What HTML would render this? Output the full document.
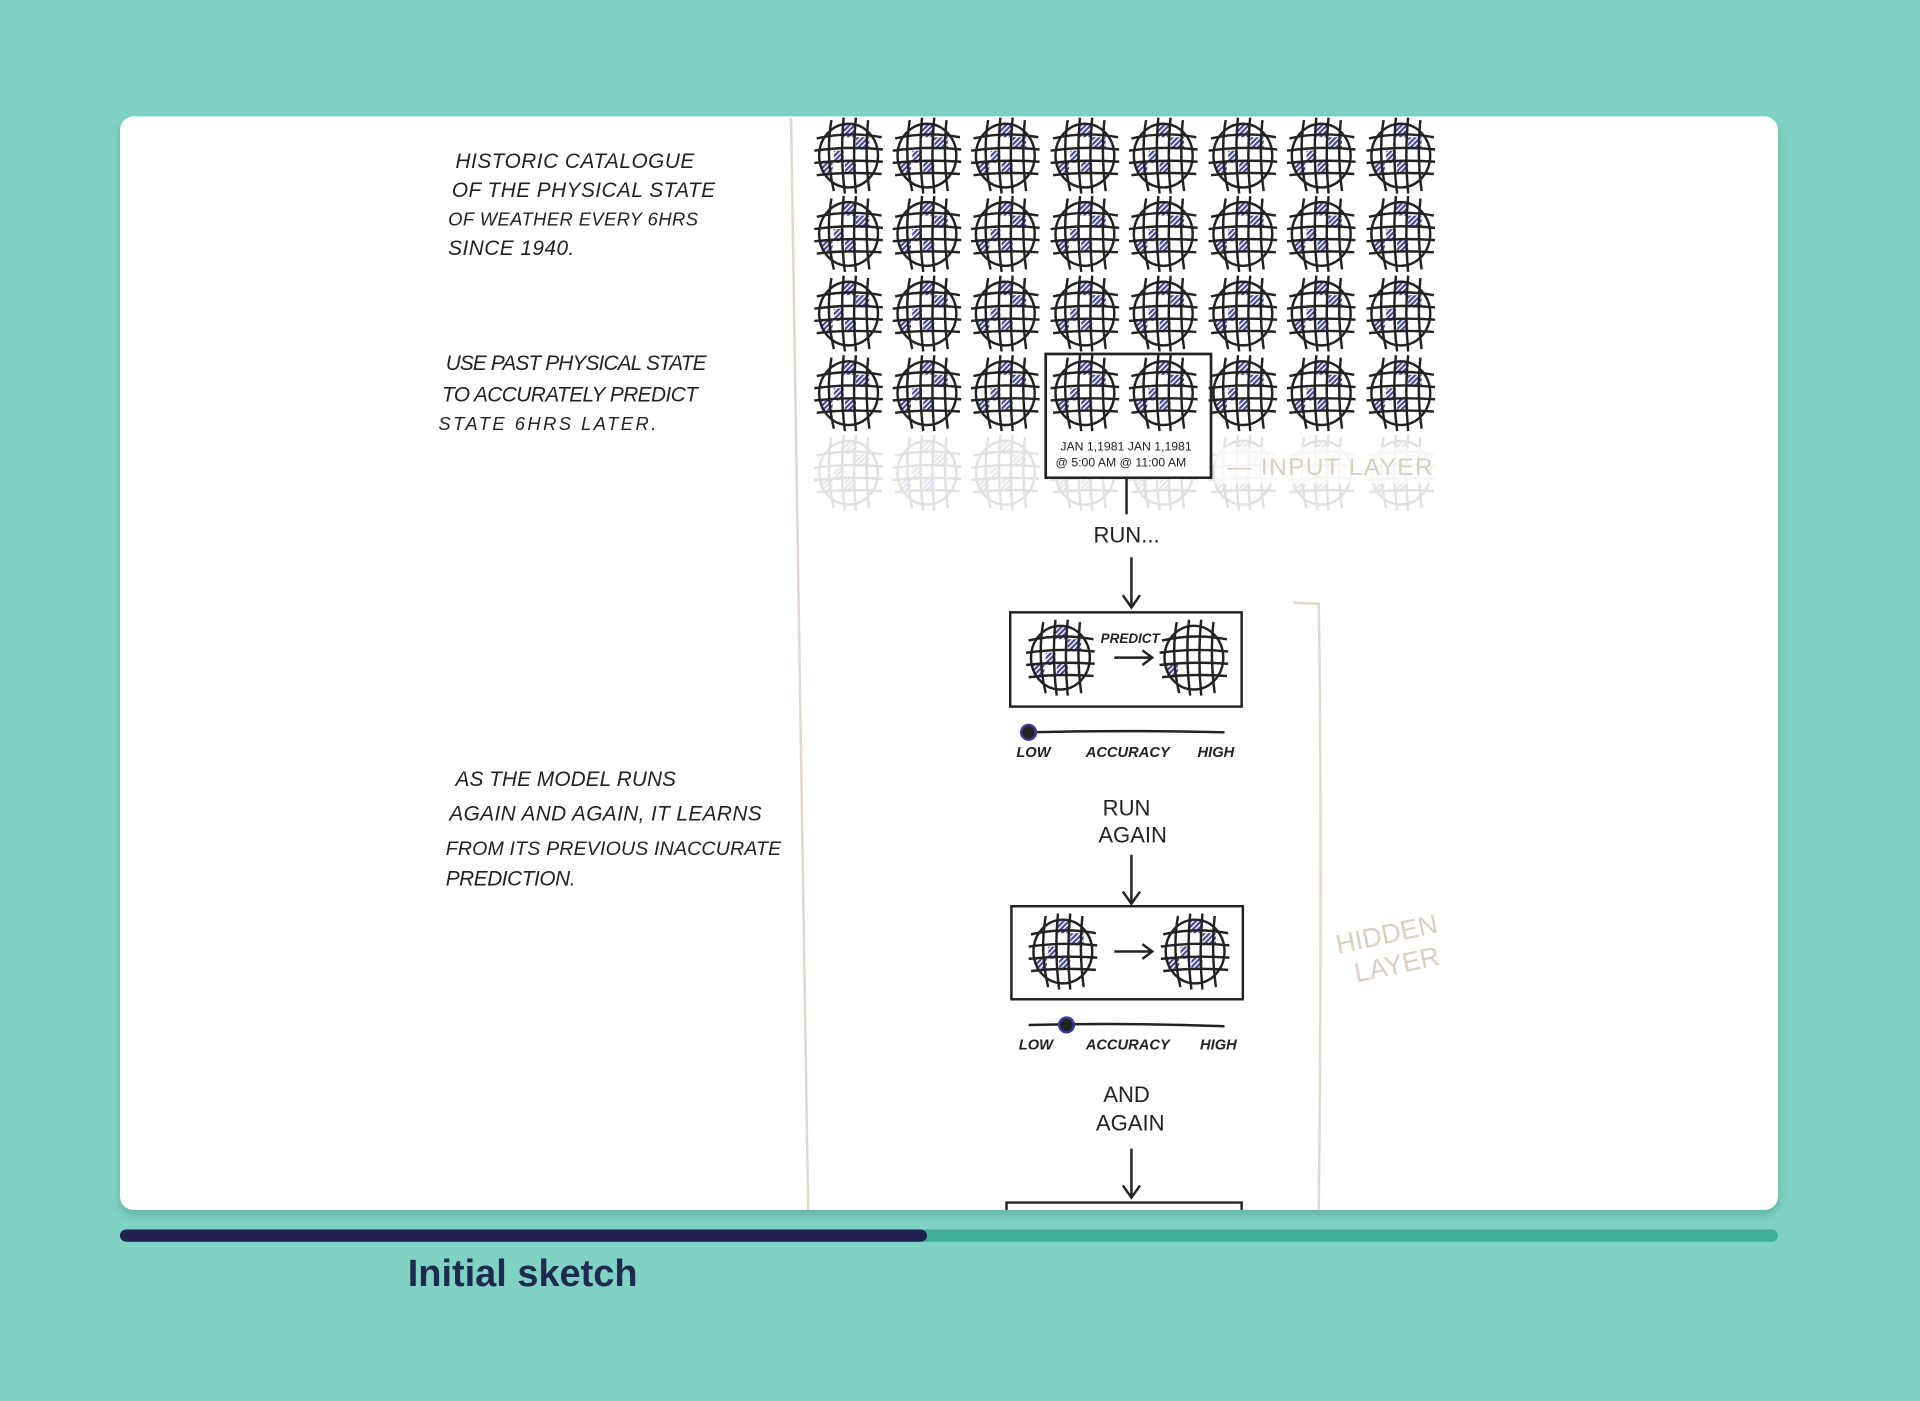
<!DOCTYPE html>
<html><head><meta charset="utf-8"><style>
html,body{margin:0;padding:0;background:#80d3c4;}
svg{display:block}
.h{font-family:"Liberation Sans",sans-serif;font-style:italic;fill:#222}
.c{font-family:"Liberation Sans",sans-serif;fill:#222;text-anchor:middle}
</style></head><body>
<svg width="1920" height="1401" viewBox="0 0 1568 1144" xmlns="http://www.w3.org/2000/svg">
<defs>
<pattern id="hp" width="3" height="3" patternUnits="userSpaceOnUse" patternTransform="rotate(45)">
<rect width="3" height="3" fill="#fff"/><rect width="1.8" height="3" fill="#4b4a9a"/></pattern>
<filter id="sh" x="-5%" y="-5%" width="110%" height="115%"><feDropShadow dx="0" dy="4" stdDeviation="4" flood-color="#3a8f80" flood-opacity="0.5"/></filter>
<g id="gr" fill="none" stroke="#222" stroke-width="2">
<ellipse cx="0" cy="0" rx="24" ry="26"/>
<path d="M-26,-14 Q0,-20 27,-15 M-28,-4 Q0,-8 28,-5 M-28,6 Q0,3 28,5 M-26,16 Q0,13 27,15"/>
<path d="M-14,-29 Q-19,0 -12,29 M-4,-31 Q-7,0 -3,31 M6,-31 Q3,0 6,31 M16,-29 Q13,0 17,29"/>
</g>
<g id="gl">
<rect x="-4" y="-25" width="10" height="10" fill="url(#hp)"/>
<rect x="6" y="-15" width="11" height="10" fill="url(#hp)"/>
<rect x="-12" y="-4" width="8" height="10" fill="url(#hp)"/>
<rect x="-3" y="5" width="9" height="10" fill="url(#hp)"/>
<rect x="-22" y="5" width="9" height="9" fill="url(#hp)"/>
<use href="#gr"/></g>
<g id="gle"><rect x="-22" y="5" width="9" height="9" fill="url(#hp)"/><use href="#gr"/></g>
</defs>
<rect x="98" y="95" width="1354" height="893" rx="11" fill="#fff" filter="url(#sh)"/>
<rect x="98" y="1004" width="1354" height="10" rx="5" fill="#3eae95"/>
<rect x="98" y="1004" width="659" height="10" rx="5" fill="#1f2250"/>
<text x="333" y="1050" font-family="Liberation Sans,sans-serif" font-weight="bold" font-size="31" fill="#1f2a4f">Initial sketch</text>
<g stroke="#e0d8cc" stroke-width="2" fill="none">
<path d="M646,96 Q652,500 660,988"/>
<path d="M1056,492 L1077,493 Q1080,700 1077,988"/>
</g>
<g class="h" font-size="17">
<text x="372" y="137" textLength="195">HISTORIC CATALOGUE</text>
<text x="369" y="161" textLength="215">OF THE PHYSICAL STATE</text>
<text x="366" y="184" font-size="15" textLength="204">OF WEATHER EVERY 6HRS</text>
<text x="366" y="208" textLength="103">SINCE 1940.</text>
<text x="364" y="302" textLength="213">USE PAST PHYSICAL STATE</text>
<text x="361" y="328" textLength="209">TO ACCURATELY PREDICT</text>
<text x="358" y="351" font-size="15" textLength="178">STATE 6HRS LATER.</text>
<text x="372" y="642" textLength="180">AS THE MODEL RUNS</text>
<text x="367" y="670" textLength="255">AGAIN AND AGAIN, IT LEARNS</text>
<text x="364" y="698" font-size="16" textLength="274">FROM ITS PREVIOUS INACCURATE</text>
<text x="364" y="723" textLength="106">PREDICTION.</text>
</g>
<g>
<g transform="translate(0,127)"><use href="#gl" x="693"/><use href="#gl" x="757"/><use href="#gl" x="821"/><use href="#gl" x="886"/><use href="#gl" x="950"/><use href="#gl" x="1015"/><use href="#gl" x="1079"/><use href="#gl" x="1144"/></g>
<g transform="translate(0,191)"><use href="#gl" x="693"/><use href="#gl" x="757"/><use href="#gl" x="821"/><use href="#gl" x="886"/><use href="#gl" x="950"/><use href="#gl" x="1015"/><use href="#gl" x="1079"/><use href="#gl" x="1144"/></g>
<g transform="translate(0,256)"><use href="#gl" x="693"/><use href="#gl" x="757"/><use href="#gl" x="821"/><use href="#gl" x="886"/><use href="#gl" x="950"/><use href="#gl" x="1015"/><use href="#gl" x="1079"/><use href="#gl" x="1144"/></g>
<g transform="translate(0,321)"><use href="#gl" x="693"/><use href="#gl" x="757"/><use href="#gl" x="821"/><use href="#gl" x="886"/><use href="#gl" x="950"/><use href="#gl" x="1015"/><use href="#gl" x="1079"/><use href="#gl" x="1144"/></g>
<g transform="translate(0,386)" opacity="0.13"><use href="#gl" x="693"/><use href="#gl" x="757"/><use href="#gl" x="821"/><use href="#gl" x="886"/><use href="#gl" x="950"/><use href="#gl" x="1015"/><use href="#gl" x="1079"/><use href="#gl" x="1144"/></g>
</g>
<rect x="992" y="365" width="184" height="30" fill="#fff" opacity="0.7"/>
<rect x="854" y="289" width="135" height="101" fill="none" stroke="#222" stroke-width="2.2"/>
<rect x="856" y="353" width="131" height="36" fill="#fff"/>
<text x="866" y="368" font-family="Liberation Sans,sans-serif" font-size="10" fill="#222">JAN 1,1981  JAN 1,1981</text>
<text x="862" y="381" font-family="Liberation Sans,sans-serif" font-size="10" fill="#222">@ 5:00 AM @ 11:00 AM</text>
<text x="1002" y="388" font-family="Liberation Sans,sans-serif" font-size="20" fill="#d8cfc0" textLength="168">— INPUT LAYER</text>
<g stroke="#222" stroke-width="2" fill="none">
<path d="M920,390 V420"/>
<path d="M924,455 V495 M917,486 L924,496 L931,486"/>
<rect x="825" y="500" width="189" height="77"/>
<path d="M910,537 H940 M933,531 L941,537 L933,543"/>
<path d="M840,598 Q920,596 1000,598"/>
<path d="M924,698 V737 M917,728 L924,738 L931,728"/>
<rect x="826" y="740" width="189" height="76"/>
<path d="M910,777 H940 M933,771 L941,777 L933,783"/>
<path d="M840,837 Q920,835 1000,838"/>
<path d="M924,938 V976 M917,968 L924,978 L931,968"/>
<path d="M822,988 V982 H1014 V988"/>
</g>
<circle cx="840" cy="598" r="6" fill="#222" stroke="#3b3a90" stroke-width="2"/>
<circle cx="871" cy="837" r="6" fill="#222" stroke="#3b3a90" stroke-width="2"/>
<use href="#gl" x="866" y="537"/><use href="#gle" x="975" y="537"/>
<use href="#gl" x="868" y="777"/><use href="#gl" x="976" y="777"/>
<text x="923" y="525" class="c" font-size="11" font-weight="bold" font-style="italic">PREDICT</text>
<g class="c" font-size="18">
<text x="920" y="443">RUN...</text>
<text x="920" y="666">RUN</text><text x="925" y="688">AGAIN</text>
<text x="920" y="900">AND</text><text x="923" y="923">AGAIN</text>
</g>
<g class="c" font-size="12" font-weight="bold" font-style="italic">
<text x="844" y="618">LOW</text><text x="921" y="618">ACCURACY</text><text x="993" y="618">HIGH</text>
<text x="846" y="857">LOW</text><text x="921" y="857">ACCURACY</text><text x="995" y="857">HIGH</text>
</g>
<g transform="rotate(-12 1135 775)" font-family="Liberation Sans,sans-serif" font-size="22" fill="#d8cfc0" text-anchor="middle">
<text x="1135" y="770">HIDDEN</text><text x="1138" y="796">LAYER</text></g>
</svg>
</body></html>
